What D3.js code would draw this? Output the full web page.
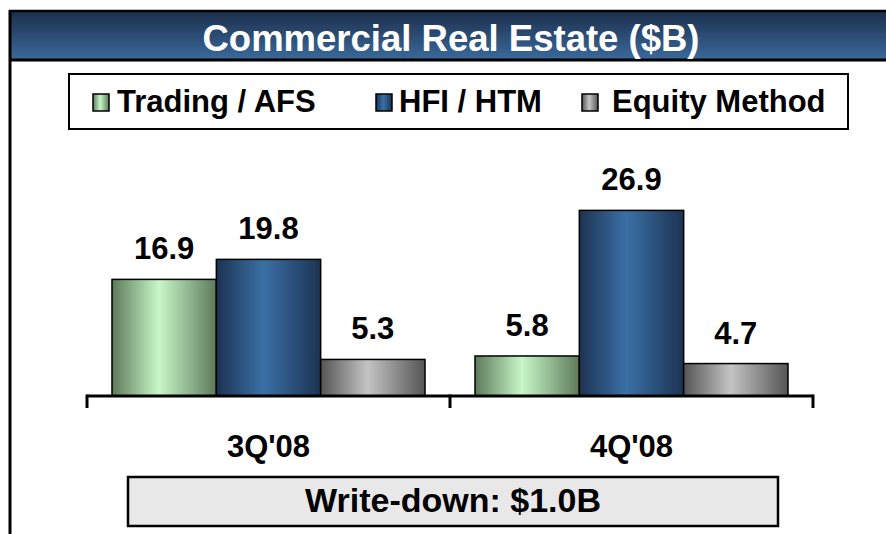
<!DOCTYPE html>
<html>
<head>
<meta charset="utf-8">
<script src="https://cdn.jsdelivr.net/npm/d3@7"></script>
<style>
  html, body { margin: 0; padding: 0; background: #fff; }
</style>
</head>
<body>
<script>
// Commercial Real Estate ($B) -- grouped bars, 3Q'08 vs 4Q'08

// ---------------------------------------------------------------------------
// Data
// ---------------------------------------------------------------------------

const categories = ["3Q'08", "4Q'08"];
const seriesNames = ["Trading / AFS", "HFI / HTM", "Equity Method"];
const tradingAfs = [16.9, 5.8];
const hfiHtm = [19.8, 26.9];
const equityMethod = [5.3, 4.7];
const title = "Commercial Real Estate ($B)";
const footnote = "Write-down: $1.0B";

// ---------------------------------------------------------------------------
// Config
// ---------------------------------------------------------------------------

const width = 886;
const height = 534;
const FONT = "'Liberation Sans', Arial, Helvetica, sans-serif";

// edge / centre colours for the cylinder-ish horizontal gradients
const GRADS = {
  green: ["#5d7a5b", "#c8f7c8"],
  blue: ["#1c3352", "#3a70a6"],
  gray: ["#555555", "#c4c4c4"],
};
const SERIES_GRAD = ["green", "blue", "gray"];

const rows = seriesNames.map((name, i) => ({
  name,
  grad: SERIES_GRAD[i],
  values: [tradingAfs, hfiHtm, equityMethod][i],
}));

// ---------------------------------------------------------------------------
// SVG
// ---------------------------------------------------------------------------

const svg = d3.select("body")
  .append("svg")
  .attr("width", width)
  .attr("height", height)
  .attr("font-family", FONT);

const defs = svg.append("defs");
for (const [key, [edge, mid]] of Object.entries(GRADS)) {
  const lg = defs.append("linearGradient")
    .attr("id", `grad-${key}`)
    .attr("x1", "0%").attr("x2", "100%")
    .attr("y1", "0%").attr("y2", "0%");
  lg.append("stop").attr("offset", "0%").attr("stop-color", edge);
  lg.append("stop").attr("offset", "45%").attr("stop-color", mid);
  lg.append("stop").attr("offset", "100%").attr("stop-color", edge);
}
const head = defs.append("linearGradient")
  .attr("id", "grad-head")
  .attr("x1", "0%").attr("x2", "0%")
  .attr("y1", "0%").attr("y2", "100%");
head.append("stop").attr("offset", "0%").attr("stop-color", "#1b2e4b");
head.append("stop").attr("offset", "100%").attr("stop-color", "#3b6a9c");

svg.append("rect").attr("width", width).attr("height", height).attr("fill", "#fff");

// Header band.
svg.append("rect")
  .attr("x", 10).attr("y", 11)
  .attr("width", width - 10).attr("height", 49)
  .attr("fill", "url(#grad-head)");
svg.append("line")
  .attr("x1", 9).attr("x2", width).attr("y1", 11).attr("y2", 11)
  .attr("stroke", "#000").attr("stroke-width", 2.5);
svg.append("line")
  .attr("x1", 9).attr("x2", width).attr("y1", 60).attr("y2", 60)
  .attr("stroke", "#000").attr("stroke-width", 3);
svg.append("line")
  .attr("x1", 10).attr("x2", 10).attr("y1", 10).attr("y2", height)
  .attr("stroke", "#000").attr("stroke-width", 3);

svg.append("text")
  .attr("x", 451).attr("y", 51)
  .attr("text-anchor", "middle")
  .attr("font-size", 36.5)
  .attr("font-weight", "bold")
  .attr("fill", "#fff")
  .text(title);

// Legend.
svg.append("rect")
  .attr("x", 69).attr("y", 74)
  .attr("width", 779).attr("height", 55)
  .attr("fill", "#fff")
  .attr("stroke", "#000").attr("stroke-width", 2);

const legendSwatchX = [93, 376, 582];
const legendTextX = [117, 399, 612];
rows.forEach((r, i) => {
  svg.append("rect")
    .attr("x", legendSwatchX[i]).attr("y", 94)
    .attr("width", 16).attr("height", 17)
    .attr("fill", `url(#grad-${r.grad})`)
    .attr("stroke", "#000").attr("stroke-width", 1.5);
  svg.append("text")
    .attr("x", legendTextX[i]).attr("y", 112)
    .attr("font-size", 31)
    .attr("font-weight", "bold")
    .attr("fill", "#000")
    .text(r.name);
});

// ---------------------------------------------------------------------------
// Bars
// ---------------------------------------------------------------------------

const x0 = d3.scaleBand().domain(categories).range([87, 813]).padding(0);
const x1 = d3.scaleBand().domain(seriesNames).range([25, x0.bandwidth() - 25]).padding(0);
const y = d3.scaleLinear().domain([0, 30]).range([396, 189]);

const groups = svg.append("g")
  .selectAll("g")
  .data(categories)
  .join("g")
  .attr("transform", (d) => `translate(${x0(d)},0)`);

groups.each(function (cat, ci) {
  const g = d3.select(this);
  rows.forEach((r) => {
    const v = r.values[ci];
    g.append("rect")
      .attr("x", x1(r.name))
      .attr("y", y(v))
      .attr("width", x1.bandwidth())
      .attr("height", y(0) - y(v))
      .attr("fill", `url(#grad-${r.grad})`)
      .attr("stroke", "#000")
      .attr("stroke-width", 1.5);
    g.append("text")
      .attr("x", x1(r.name) + x1.bandwidth() / 2)
      .attr("y", y(v) - 20)
      .attr("text-anchor", "middle")
      .attr("font-size", 31)
      .attr("font-weight", "bold")
      .attr("fill", "#000")
      .text(v.toFixed(1));
  });
});

// Axis: baseline + ticks at category boundaries.
const axis = svg.append("g").attr("transform", `translate(0,${y(0)})`);
axis.append("line")
  .attr("x1", 87).attr("x2", 813)
  .attr("stroke", "#000").attr("stroke-width", 3);
const tickXs = [x0(categories[0]), x0(categories[1]), x0(categories[1]) + x0.bandwidth()];
axis.selectAll(".tick")
  .data(tickXs)
  .join("line")
  .attr("x1", (d) => d).attr("x2", (d) => d)
  .attr("y1", -1.5).attr("y2", 12)
  .attr("stroke", "#000").attr("stroke-width", 3);

svg.append("g")
  .selectAll("text")
  .data(categories)
  .join("text")
  .attr("x", (d) => x0(d) + x0.bandwidth() / 2)
  .attr("y", 457)
  .attr("text-anchor", "middle")
  .attr("font-size", 31)
  .attr("font-weight", "bold")
  .attr("fill", "#000")
  .text((d) => d);

// Write-down box.
svg.append("rect")
  .attr("x", 128).attr("y", 477)
  .attr("width", 650).attr("height", 49)
  .attr("fill", "#e8e8e8")
  .attr("stroke", "#000").attr("stroke-width", 2.5);
svg.append("text")
  .attr("x", 453).attr("y", 512)
  .attr("text-anchor", "middle")
  .attr("font-size", 34)
  .attr("font-weight", "bold")
  .attr("fill", "#000")
  .text(footnote);
</script>
</body>
</html>
